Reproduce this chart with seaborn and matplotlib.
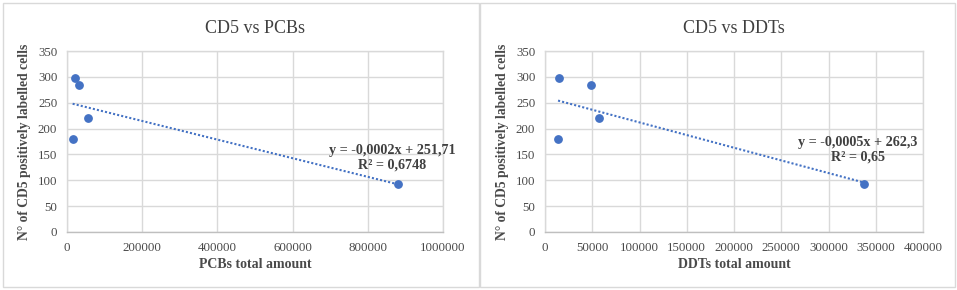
import matplotlib
import matplotlib.pyplot as plt
import numpy as np
import pandas as pd
import seaborn as sns
from matplotlib.patches import Rectangle

matplotlib.use("Agg")

# values
cd5_cells = [297, 284, 220, 180, 92]
pcbs_total = [20500, 31000, 56000, 15000, 881000]
ddts_total = [15100, 49000, 57500, 13800, 337600]

panels = [
    {
        "title": "CD5 vs PCBs",
        "xlabel": "PCBs total amount",
        "x": pcbs_total,
        "xticks": [0, 200000, 400000, 600000, 800000, 1000000],
        "eq": "y = -0,0002x + 251,71\nR² = 0,6748",
        "eq_pos": (0.864, 0.41),
    },
    {
        "title": "CD5 vs DDTs",
        "xlabel": "DDTs total amount",
        "x": ddts_total,
        "xticks": [0, 50000, 100000, 150000, 200000, 250000, 300000, 350000, 400000],
        "eq": "y = -0,0005x + 262,3\nR² = 0,65",
        "eq_pos": (0.828, 0.453),
    },
]
yticks = [0, 50, 100, 150, 200, 250, 300, 350]

sns.set_style("white")
plt.rcParams["font.family"] = ["Liberation Serif", "DejaVu Serif"]

BLUE = "#4472C4"
GRID = "#d9d9d9"
TXT = "#404040"

fig = plt.figure(figsize=(9.57, 2.9), dpi=100)
fig.patch.set_facecolor("white")

# panel frames like the Excel chart areas
for x0, w in [(3 / 957, 476 / 957), (480 / 957, 475 / 957)]:
    fig.patches.append(Rectangle((x0, 3 / 290), w, 284 / 290, transform=fig.transFigure,
                                 fill=False, edgecolor=GRID, lw=1.0))

axes = [fig.add_axes([0.070, 0.200, 0.393, 0.624]),
        fig.add_axes([0.5695, 0.200, 0.395, 0.624])]

for ax, p in zip(axes, panels):
    df = pd.DataFrame({"x": p["x"], "y": cd5_cells})
    sns.regplot(data=df, x="x", y="y", ci=None, truncate=True, ax=ax,
                scatter_kws={"s": 28, "color": BLUE, "edgecolor": BLUE, "zorder": 3, "alpha": 1},
                line_kws={"color": BLUE, "ls": (0, (1, 1)), "lw": 1.5, "zorder": 2})
    ax.set_xlim(p["xticks"][0], p["xticks"][-1])
    ax.set_ylim(0, 350)
    ax.set_xticks(p["xticks"])
    ax.set_xticklabels([str(t) for t in p["xticks"]])
    ax.set_yticks(yticks)
    ax.grid(True, color=GRID, lw=1.0)
    ax.set_axisbelow(True)
    for name, sp in ax.spines.items():
        sp.set_color(GRID)
        sp.set_linewidth(1.0)
    ax.spines["bottom"].set_color("#bfbfbf")
    ax.tick_params(axis="both", length=0, labelsize=9.3, colors="#4a4a4a")
    ax.tick_params(axis="x", pad=7)
    ax.tick_params(axis="y", pad=7)
    ax.set_title(p["title"], fontsize=13, color=TXT, pad=13)
    ax.set_xlabel(p["xlabel"], fontsize=10, fontweight="bold", color="#4a4a4a", labelpad=3)
    ax.set_ylabel("N° of CD5 positively labelled cells", fontsize=9.8, fontweight="bold",
                  color="#4a4a4a", labelpad=5)
    ax.text(p["eq_pos"][0], p["eq_pos"][1], p["eq"], transform=ax.transAxes, ha="center",
            va="center", fontsize=10.2, fontweight="bold", color=TXT, linespacing=1.15)

fig.savefig("out.png", dpi=100, facecolor="white")
plt.close(fig)
